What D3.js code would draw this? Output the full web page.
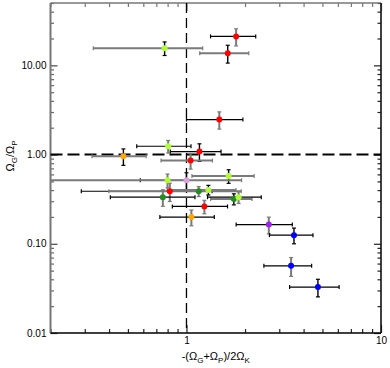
<!DOCTYPE html>
<html><head><meta charset="utf-8">
<script src="https://cdn.jsdelivr.net/npm/d3@7/dist/d3.min.js"></script>
<style>
html,body{margin:0;padding:0;background:#fff;}
svg{display:block;font-family:"Liberation Sans",Arial,Helvetica,sans-serif;}
</style></head>
<body><svg id="c" width="390" height="368"></svg>
<script>
// ---- data ----
const group = ["red","red","lime","red","lime","red","orange","red","lime","lime","pink","red","dgreen","lime","dgreen","dgreen","lime","red","orange","purple","blue","blue","blue"];
const xVal  = [1.80,1.63,0.772,1.475,0.805,1.166,0.474,1.05,1.647,0.799,1.0,0.821,1.156,1.296,0.756,1.752,1.853,1.236,1.06,2.65,3.57,3.45,4.74];
const xErr  = [0.47,0.46,0.44,0.475,0.25,0.34,0.147,0.31,0.58,0.22,0.92,0.533,0.757,0.50,0.35,0.421,0.57,0.39,0.33,0.85,0.9,0.95,1.35];
const yVal  = [21.1,13.7,15.6,2.47,1.24,1.08,0.957,0.857,0.576,0.515,0.515,0.388,0.388,0.402,0.333,0.318,0.333,0.262,0.199,0.164,0.125,0.0566,0.0327];
const yErr  = [4.6,3.1,2.7,0.54,0.2,0.24,0.2,0.17,0.1,0.09,0.11,0.09,0.05,0.05,0.07,0.045,0.05,0.045,0.04,0.035,0.025,0.0135,0.0073];
const yTickVals = [0.01,0.1,1,10];
const yTickLabels = ["0.01","0.10","1.00","10.00"];
const xTickVals = [1,10];
const xTickLabels = ["1","10"];
const xRefLine = 1, yRefLine = 1;

// ---- styles ----
const groupColor = {red:"#ff0000",lime:"#adff2f",orange:"#ffa500",dgreen:"#228b22",pink:"#dda0dd",purple:"#a020f0",blue:"#0000ff"};
const xBarGray = [0,1,1,0,0,0,1,1,1,0,1,0,1,1,0,1,0,0,0,0,0,0,0];
const yBarGray = [1,0,0,1,1,0,0,1,0,1,0,1,1,0,1,0,1,1,1,1,0,1,0];

const svg = d3.select("#c");
const L=50.5,R=381,T=3,B=333;
const x = d3.scaleLog().domain([0.2,10]).range([L,R]);
const y = d3.scaleLog().domain([0.01,50]).range([B,T]);

// minor tick values
const xMinor=[], yMinor=[];
[0.1,1].forEach(d=>{for(let k=2;k<=9;k++){const v=d*k; if(v>=0.2&&v<=10) xMinor.push(v);}});
[0.01,0.1,1,10].forEach(d=>{for(let k=2;k<=9;k++){const v=d*k; if(v<=50) yMinor.push(v);}});

function styleAxis(g,col){ g.select(".domain").remove(); g.selectAll("line").attr("stroke",col).attr("stroke-width",1.2); }

// axes: bottom
svg.append("g").attr("transform",`translate(0,${B})`)
  .call(d3.axisBottom(x).tickValues(xMinor).tickSize(-4).tickFormat(""))
  .call(g=>styleAxis(g,"#222"));
svg.append("g").attr("transform",`translate(0,${B})`)
  .call(d3.axisBottom(x).tickValues(xTickVals).tickSize(-8).tickPadding(4).tickFormat((d,i)=>xTickLabels[i]))
  .call(g=>{styleAxis(g,"#222"); g.selectAll("text").attr("font-size",10).attr("fill","#000").attr("font-family","Liberation Sans, Arial");});
// top
svg.append("g").attr("transform",`translate(0,${T})`)
  .call(d3.axisTop(x).tickValues(xMinor).tickSize(-4).tickFormat(""))
  .call(g=>styleAxis(g,"#777"));
svg.append("g").attr("transform",`translate(0,${T})`)
  .call(d3.axisTop(x).tickValues(xTickVals).tickSize(-8).tickFormat(""))
  .call(g=>styleAxis(g,"#777"));
// left
svg.append("g").attr("transform",`translate(${L},0)`)
  .call(d3.axisLeft(y).tickValues(yMinor).tickSize(-3.5).tickFormat(""))
  .call(g=>styleAxis(g,"#666"));
svg.append("g").attr("transform",`translate(${L},0)`)
  .call(d3.axisLeft(y).tickValues(yTickVals).tickSize(-7).tickPadding(4).tickFormat((d,i)=>yTickLabels[i]))
  .call(g=>{styleAxis(g,"#444"); g.selectAll("text").attr("font-size",10).attr("fill","#000").attr("font-family","Liberation Sans, Arial");});
// right
svg.append("g").attr("transform",`translate(${R},0)`)
  .call(d3.axisRight(y).tickValues(yMinor).tickSize(-3.5).tickFormat(""))
  .call(g=>styleAxis(g,"#222"));
svg.append("g").attr("transform",`translate(${R},0)`)
  .call(d3.axisRight(y).tickValues(yTickVals).tickSize(-7).tickFormat(""))
  .call(g=>styleAxis(g,"#222"));

// frame
svg.append("line").attr("x1",L).attr("x2",L).attr("y1",T).attr("y2",B).attr("stroke","#777").attr("stroke-width",2);
svg.append("line").attr("x1",L).attr("x2",R).attr("y1",T).attr("y2",T).attr("stroke","#777").attr("stroke-width",1.6);
svg.append("line").attr("x1",R).attr("x2",R).attr("y1",T).attr("y2",B).attr("stroke","#111").attr("stroke-width",1.6);
svg.append("line").attr("x1",L).attr("x2",R).attr("y1",B).attr("y2",B).attr("stroke","#000").attr("stroke-width",1.6);

// reference dashed lines
svg.append("line").attr("x1",x(xRefLine)).attr("x2",x(xRefLine)).attr("y1",T).attr("y2",B)
  .attr("stroke","#000").attr("stroke-width",1.3).attr("stroke-dasharray","10,5");
svg.append("line").attr("x1",L).attr("x2",R).attr("y1",y(yRefLine)).attr("y2",y(yRefLine))
  .attr("stroke","#000").attr("stroke-width",2).attr("stroke-dasharray","12,5");

// error bars
const clipX = v=>Math.max(L,Math.min(R,v));
const pts = xVal.map((v,i)=>({i,x:v,y:yVal[i],xe:xErr[i],ye:yErr[i],g:group[i]}));
const eb = svg.append("g");
const cap=2;
pts.forEach(p=>{
  const cx=x(p.x), cy=y(p.y);
  const xl=p.x-p.xe>0 ? x(p.x-p.xe) : -1e4;
  const xr=x(p.x+p.xe);
  const colX = xBarGray[p.i] ? "#7a7a7a":"#000";
  const wX = xBarGray[p.i] ? 2:1.2;
  eb.append("line").attr("x1",clipX(xl)).attr("x2",clipX(xr)).attr("y1",cy).attr("y2",cy).attr("stroke",colX).attr("stroke-width",wX);
  [xl,xr].forEach(xx=>{ if(xx>=L&&xx<=R) eb.append("line").attr("x1",xx).attr("x2",xx).attr("y1",cy-cap).attr("y2",cy+cap).attr("stroke",colX).attr("stroke-width",1.2);});
  const yt=y(p.y+p.ye), yb=y(p.y-p.ye);
  const colY = yBarGray[p.i] ? "#7a7a7a":"#000";
  const wY = yBarGray[p.i] ? 2:1.4;
  eb.append("line").attr("x1",cx).attr("x2",cx).attr("y1",yt).attr("y2",yb).attr("stroke",colY).attr("stroke-width",wY);
  [yt,yb].forEach(yy=>eb.append("line").attr("x1",cx-cap).attr("x2",cx+cap).attr("y1",yy).attr("y2",yy).attr("stroke",colY).attr("stroke-width",1.2));
});

// points
svg.append("g").selectAll("circle").data(pts).join("circle")
  .attr("cx",d=>x(d.x)).attr("cy",d=>y(d.y)).attr("r",3)
  .attr("fill",d=>groupColor[d.g]);

// axis titles
const xt = svg.append("text").attr("x",(L+R)/2).attr("y",360).attr("text-anchor","middle").attr("font-size",11).attr("fill","#000");
xt.append("tspan").text("-(Ω");
xt.append("tspan").attr("font-size",8).attr("dy",3).text("G");
xt.append("tspan").attr("dy",-3).text("+Ω");
xt.append("tspan").attr("font-size",8).attr("dy",3).text("P");
xt.append("tspan").attr("dy",-3).text(")/2Ω");
xt.append("tspan").attr("font-size",8).attr("dy",3).text("K");

const yt2 = svg.append("text").attr("transform","translate(14,156) rotate(-90)").attr("text-anchor","middle").attr("font-size",11).attr("fill","#000");
yt2.append("tspan").text("Ω");
yt2.append("tspan").attr("font-size",8).attr("dy",3).text("G");
yt2.append("tspan").attr("dy",-3).text("/Ω");
yt2.append("tspan").attr("font-size",8).attr("dy",3).text("P");
</script></body></html>
